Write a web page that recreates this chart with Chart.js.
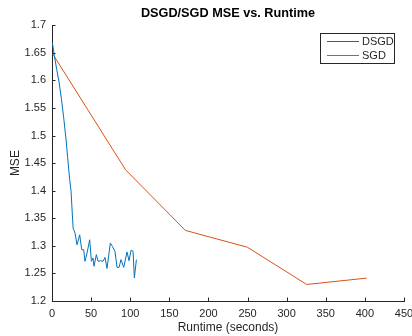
<!DOCTYPE html>
<html>
<head>
<meta charset="utf-8">
<script src="https://cdn.jsdelivr.net/npm/chart.js@4"></script>
<style>
  html, body { margin: 0; padding: 0; background: #fff; }
  #wrap { width: 412px; height: 336px; }
</style>
</head>
<body>
<div id="wrap"><canvas id="myChart" width="412" height="336"></canvas></div>
<script>
// values
var dsgdTime = [0.5, 3, 6, 9, 12, 15, 18, 20, 22.6, 24.3, 27, 29.5, 32, 35.4, 38, 40.5, 42.2, 44.8, 48.2, 50.4, 52.4, 53.7, 56.7, 58.9, 61.9, 65.2, 67.8, 70.3, 74.6, 77.2, 80.5, 83.1, 85.7, 88.2, 91.7, 95.9, 98.5, 101, 103.6, 105.3, 107.9];
var dsgdMse = [1.668, 1.645, 1.62, 1.597, 1.567, 1.532, 1.492, 1.46, 1.42, 1.40, 1.332, 1.323, 1.302, 1.320, 1.293, 1.293, 1.272, 1.287, 1.311, 1.272, 1.278, 1.263, 1.284, 1.272, 1.273, 1.272, 1.279, 1.259, 1.305, 1.299, 1.290, 1.261, 1.261, 1.275, 1.261, 1.289, 1.273, 1.292, 1.290, 1.242, 1.275];
var sgdTime = [0, 94, 170.5, 249.8, 325.6, 402.3];
var sgdMse = [1.65, 1.438, 1.328, 1.2975, 1.230, 1.2415];
var xTicks = [0, 50, 100, 150, 200, 250, 300, 350, 400, 450];
var yTicks = [1.2, 1.25, 1.3, 1.35, 1.4, 1.45, 1.5, 1.55, 1.6, 1.65, 1.7];

var axisColor = '#262626';
var fontName = '"Liberation Sans", Arial, sans-serif';

function pts(xs, ys) {
  return xs.map((x, i) => ({ x: x, y: ys[i] }));
}

// MATLAB style inward ticks and boxed legend
var matlabBits = {
  id: 'matlabBits',
  afterDraw: (chart) => {
    var ctx = chart.ctx;
    var xs = chart.scales.x, ys = chart.scales.y;
    var area = chart.chartArea;
    ctx.save();
    ctx.strokeStyle = axisColor;
    ctx.lineWidth = 1;
    ctx.beginPath();
    xTicks.forEach((t) => {
      var px = Math.round(xs.getPixelForValue(t)) + 0.5;
      ctx.moveTo(px, area.bottom);
      ctx.lineTo(px, area.bottom - 3.5);
    });
    yTicks.forEach((t) => {
      var py = Math.round(ys.getPixelForValue(t)) + 0.5;
      ctx.moveTo(area.left, py);
      ctx.lineTo(area.left + 3.5, py);
    });
    ctx.stroke();

    // legend box
    var bx = 320.5, by = 33.5, bw = 74, bh = 30;
    ctx.fillStyle = '#fff';
    ctx.fillRect(bx, by, bw, bh);
    ctx.strokeStyle = '#262626';
    ctx.strokeRect(bx, by, bw, bh);
    ctx.font = '11px ' + fontName;
    ctx.textBaseline = 'middle';
    ctx.textAlign = 'left';
    chart.data.datasets.forEach((ds, i) => {
      var y = 41.5 + i * 14;
      ctx.strokeStyle = ds.borderColor;
      ctx.lineWidth = 1;
      ctx.beginPath();
      ctx.moveTo(327, y);
      ctx.lineTo(359, y);
      ctx.stroke();
      ctx.fillStyle = axisColor;
      ctx.fillText(ds.label, 362, y + 0.5);
    });
    ctx.restore();
  }
};

new Chart('myChart', {
  type: 'line',
  data: {
    datasets: [{
      label: 'DSGD',
      data: pts(dsgdTime, dsgdMse),
      borderColor: '#0072BD',
      borderWidth: 1,
      pointRadius: 0,
      tension: 0,
      fill: false
    }, {
      label: 'SGD',
      data: pts(sgdTime, sgdMse),
      borderColor: '#D95319',
      borderWidth: 1,
      pointRadius: 0,
      tension: 0,
      fill: false
    }]
  },
  options: {
    responsive: false,
    animation: false,
    events: [],
    layout: { padding: { left: 0, right: 8, top: 0, bottom: 0 } },
    plugins: {
      legend: { display: false },
      tooltip: { enabled: false },
      title: {
        display: true,
        fullSize: false,
        text: 'DSGD/SGD MSE vs. Runtime',
        color: '#000',
        font: { family: fontName, size: 12.7, weight: 'bold' },
        padding: { top: 6, bottom: 4 }
      }
    },
    scales: {
      x: {
        type: 'linear',
        min: 0,
        max: 450,
        afterBuildTicks: (s) => { s.ticks = xTicks.map((v) => ({ value: v })); },
        afterFit: (s) => { s.height = 35; s.paddingLeft = 0; s.paddingRight = 0; },
        grid: { drawOnChartArea: false, drawTicks: false },
        border: { color: axisColor, width: 1 },
        ticks: {
          color: axisColor,
          padding: 6,
          maxRotation: 0,
          font: { family: fontName, size: 11 }
        },
        title: {
          display: true,
          text: 'Runtime (seconds)',
          color: axisColor,
          font: { family: fontName, size: 12 },
          padding: { top: 0, bottom: 1 }
        }
      },
      y: {
        type: 'linear',
        min: 1.2,
        max: 1.7,
        afterBuildTicks: (s) => { s.ticks = yTicks.map((v) => ({ value: v })); },
        afterFit: (s) => { s.width = 52; },
        grid: { drawOnChartArea: false, drawTicks: false },
        border: { color: axisColor, width: 1 },
        ticks: {
          color: axisColor,
          padding: 6,
          font: { family: fontName, size: 11 },
          callback: (v) => String(+v.toFixed(2))
        },
        title: {
          display: true,
          text: 'MSE',
          color: axisColor,
          font: { family: fontName, size: 12 },
          padding: { top: 8, bottom: 0 }
        }
      }
    }
  },
  plugins: [matlabBits]
});
</script>
</body>
</html>
